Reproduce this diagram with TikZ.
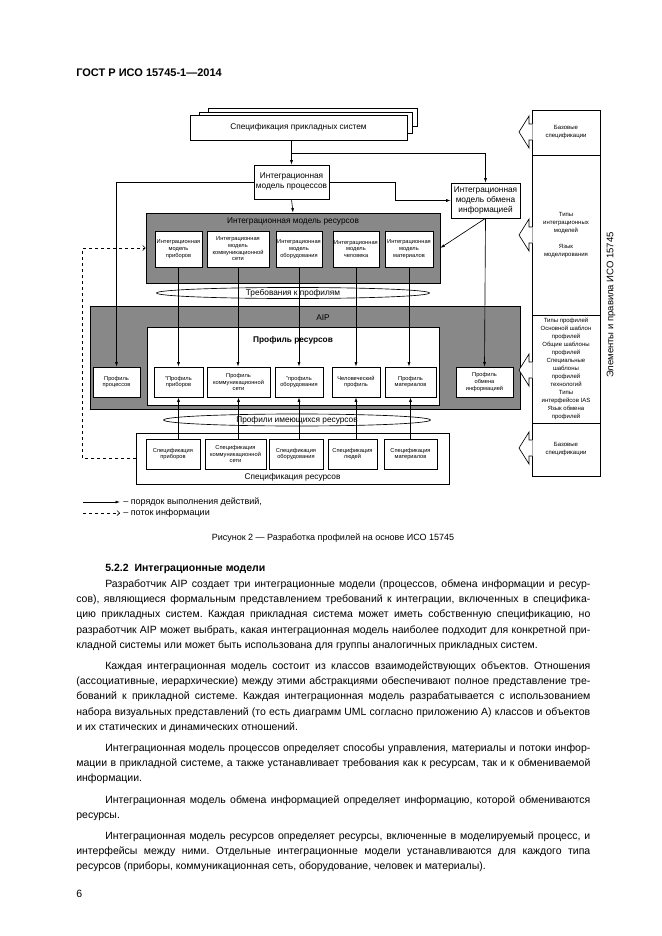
\documentclass[tikz,border=0pt]{standalone}
\usepackage{fontspec}
\setmainfont{Liberation Sans}
\usepackage{xcolor}
\usepackage{tikz}
\usetikzlibrary{arrows.meta,shapes.geometric}
\definecolor{aipgray}{HTML}{888888}
\frenchspacing

\tikzset{
  box/.style={draw, fill=white, align=center, inner sep=1pt, font=\fontsize{5.7}{6.7}\selectfont},
  bigtext/.style={align=center, inner sep=1pt, font=\fontsize{8.3}{10}\selectfont},
  darkbox/.style={draw, fill=aipgray},
  oval/.style={draw, ellipse, inner sep=0pt, font=\fontsize{8.3}{10}\selectfont},
  colbox/.style={draw, fill=white, align=center, minimum width=68pt, inner sep=1pt, font=\fontsize{6}{8}\selectfont},
  infoflow/.style={dashed, -{Straight Barb[length=2.5pt,width=5pt]}},
  legendtext/.style={anchor=west, inner sep=0pt, font=\fontsize{9}{11}\selectfont},
  bodyline/.style={anchor=base west, inner sep=0pt, font=\fontsize{10.5}{13}\selectfont},
}

\begin{document}
\begin{tikzpicture}[x=1pt, y=-1pt, >={Latex[length=4.5pt,width=3pt]}, line width=0.65pt]
  \fill[white] (0,0) rectangle (661,936);
  \useasboundingbox (0,0) rectangle (661,936);
  \node[anchor=base west, inner sep=0pt, font=\fontsize{11}{13}\selectfont\bfseries] (gost) at (76,77) {ГОСТ Р ИСО 15745-1—2014};

  % application specifications
  \draw[fill=white] (208,108) rectangle (417,126);
  \draw[fill=white] (199,112) rectangle (412,133);
  \node[box, bigtext, draw, minimum width=217pt, minimum height=25pt] (appspec) at (298.5,127.5) {Спецификация прикладных систем};
  \node[box, bigtext, draw, minimum width=75pt, minimum height=34pt] (procmodel) at (291.5,182) {Интеграционная\\модель процессов};
  \node[box, bigtext, draw, minimum width=69pt, minimum height=35pt] (infomodel) at (485.5,200.5) {Интеграционная\\модель обмена\\информацией};

  % resource model
  \node[darkbox, minimum width=294pt, minimum height=70pt] (resmodel) at (293,248) {};
  \node[bigtext] (resmodeltitle) at (293,222) {Интеграционная модель ресурсов};
  \node[box, minimum width=47pt, minimum height=36pt] (im1) at (178.5,249) {Интеграционная\\модель\\приборов};
  \node[box, minimum width=62pt, minimum height=36pt] (im2) at (238,249) {Интеграционная\\модель\\коммуникационной\\сети};
  \node[box, minimum width=46pt, minimum height=36pt] (im3) at (299,249) {Интеграционная\\модель\\оборудования};
  \node[box, minimum width=46pt, minimum height=36pt] (im4) at (356,249) {Интеграционная\\модель\\человека};
  \node[box, minimum width=48pt, minimum height=36pt] (im5) at (409,249) {Интеграционная\\модель\\материалов};
  \node[oval, minimum width=273pt, minimum height=11pt] (req) at (293,293) {Требования к профилям};

  % AIP
  \node[darkbox, minimum width=430pt, minimum height=103pt] (aip) at (305,357.5) {};
  \node[bigtext] (aiptitle) at (323,318) {AIP};
  \node[draw, fill=white, minimum width=292pt, minimum height=78pt] (resprof) at (293,366) {};
  \node[bigtext, font=\fontsize{8.3}{10}\selectfont\bfseries] (resproftitle) at (293,340) {Профиль ресурсов};
  \node[box, minimum width=47pt, minimum height=30pt] (pproc) at (116.5,382) {Профиль\\процессов};
  \node[box, minimum width=49pt, minimum height=30pt] (p1) at (178.5,382) {”Профиль\\приборов};
  \node[box, minimum width=63pt, minimum height=30pt] (p2) at (238.5,382) {Профиль\\коммуникационной\\сети};
  \node[box, minimum width=48pt, minimum height=30pt] (p3) at (299,382) {”профиль\\оборудования};
  \node[box, minimum width=48pt, minimum height=30pt] (p4) at (356,382) {Человеческий\\профиль};
  \node[box, minimum width=51pt, minimum height=30pt] (p5) at (410.5,382) {Профиль\\материалов};
  \node[box, minimum width=57pt, minimum height=30pt] (pinfo) at (484.5,382) {Профиль\\обмена\\информацией};
  \node[oval, minimum width=267pt, minimum height=12pt] (avail) at (297,420) {Профили имеющихся ресурсов};

  % resource specifications
  \node[draw, fill=white, minimum width=313pt, minimum height=51pt] (resspec) at (292.5,458.5) {};
  \node[bigtext] (resspectitle) at (292.5,477) {Спецификация ресурсов};
  \node[box, minimum width=54pt, minimum height=30pt] (s1) at (173,454) {Спецификация\\приборов};
  \node[box, minimum width=61pt, minimum height=30pt] (s2) at (235.5,454) {Спецификация\\коммуникационной\\сети};
  \node[box, minimum width=54pt, minimum height=30pt] (s3) at (296,454) {Спецификация\\оборудования};
  \node[box, minimum width=49pt, minimum height=30pt] (s4) at (352.5,454) {Спецификация\\людей};
  \node[box, minimum width=53pt, minimum height=30pt] (s5) at (410.5,454) {Спецификация\\материалов};

  % ISO 15745 column
  \node[colbox, minimum height=45pt] (col1) at (566,132.5) {Базовые\\спецификации};
  \node[colbox, minimum height=160pt] (col2) at (566,235) {Типы\\интеграционных\\моделей\\[8pt]Язык\\моделирования};
  \node[colbox, minimum height=108pt] (col3) at (566,369) {Типы профилей\\Основной шаблон\\профилей\\Общие шаблоны\\профилей\\Специальные\\шаблоны\\профилей\\технологий\\Типы\\интерфейсов IAS\\Язык обмена\\профилей};
  \node[colbox, minimum height=53pt] (col4) at (566,449.5) {Базовые\\спецификации};
  \node[rotate=90, inner sep=0pt, font=\fontsize{9.5}{11}\selectfont] (isolabel) at (611,305) {Элементы и правила ИСО 15745};
  \fill[white] (532.5,124) -- (529,124) -- (529,116) -- (519,132) -- (529,148) -- (529,140) -- (532.5,140) -- cycle;
  \draw (532,124) -- (529,124) -- (529,116) -- (519,132) -- (529,148) -- (529,140) -- (532,140);
  \fill[white] (532.5,227) -- (529,227) -- (529,219) -- (519,235) -- (529,251) -- (529,243) -- (532.5,243) -- cycle;
  \draw (532,227) -- (529,227) -- (529,219) -- (519,235) -- (529,251) -- (529,243) -- (532,243);
  \fill[white] (532.5,362) -- (529,362) -- (529,354) -- (519,370) -- (529,386) -- (529,378) -- (532.5,378) -- cycle;
  \draw (532,362) -- (529,362) -- (529,354) -- (519,370) -- (529,386) -- (529,378) -- (532,378);
  \fill[white] (532.5,440) -- (529,440) -- (529,432) -- (519,448) -- (529,464) -- (529,456) -- (532.5,456) -- cycle;
  \draw (532,440) -- (529,440) -- (529,432) -- (519,448) -- (529,464) -- (529,456) -- (532,456);

  % order of actions
  \coordinate (split) at (291.5,153);
  \draw[->] (appspec.south -| procmodel.north) -- (procmodel.north);
  \draw[->] (split) -| (infomodel.north);
  \draw[->] (procmodel.west) -| (pproc.north);
  \draw[->] (procmodel.east) -- ++(65.5,0) |- (infomodel.west);
  \draw[->] (procmodel.south) -- (resmodel.north);
  \draw[->] (infomodel.south) -- (resmodel.east);
  \draw[->] (infomodel.south) -- (pinfo.north);
  \draw[->] (im1.south) -- (im1.south |- p1.north);
  \draw[->] (im2.south) -- (im2.south |- p2.north);
  \draw[->] (im3.south) -- (im3.south |- p3.north);
  \draw[->] (im4.south) -- (im4.south |- p4.north);
  \draw[->] (im5.south) -- (im5.south |- p5.north);
  \draw[->] (p1.south |- s1.north) -- (p1.south);
  \draw[->] (p2.south |- s2.north) -- (p2.south);
  \draw[->] (p3.south |- s3.north) -- (p3.south);
  \draw[->] (p4.south |- s4.north) -- (p4.south);
  \draw[->] (p5.south |- s5.north) -- (p5.south);
  % information flow
  \draw[infoflow] (resspec.west) -- ++(-53,0) |- (resmodel.west);

  % legend
  \coordinate (legsolidA) at (83,502);
  \coordinate (legsolidB) at (120,502);
  \coordinate (legdashA) at (83,513);
  \coordinate (legdashB) at (120,513);
  \draw[->] (legsolidA) -- (legsolidB);
  \draw[infoflow] (legdashA) -- (legdashB);
  \node[legendtext] (legsolid) at (123,502) {– порядок выполнения действий,};
  \node[legendtext] (legdash) at (123,513) {– поток информации};

  \node[inner sep=0pt, font=\fontsize{9}{11}\selectfont] (caption) at (333,538) {Рисунок 2 — Разработка профилей на основе ИСО 15745};

  % text
  \node[bodyline, font=\fontsize{10.5}{13}\selectfont\bfseries] (heading) at (105,571) {5.2.2\ \ Интеграционные модели};
  \node[bodyline] (par1a) at (105,587) {\makebox[485pt][s]{Разработчик AIP создает три интеграционные модели (процессов, обмена информации и ресур-}};
  \node[bodyline] (par1b) at (76,602) {\makebox[514pt][s]{сов), являющиеся формальным представлением требований к интеграции, включенных в специфика-}};
  \node[bodyline] (par1c) at (76,617) {\makebox[514pt][s]{цию прикладных систем. Каждая прикладная система может иметь собственную спецификацию, но}};
  \node[bodyline] (par1d) at (76,633) {\makebox[514pt][s]{разработчик AIP может выбрать, какая интеграционная модель наиболее подходит для конкретной при-}};
  \node[bodyline] (par1e) at (76,648) {кладной системы или может быть использована для группы аналогичных прикладных систем.};
  \node[bodyline] (par2a) at (105,669) {\makebox[485pt][s]{Каждая интеграционная модель состоит из классов взаимодействующих объектов. Отношения}};
  \node[bodyline] (par2b) at (76,684) {\makebox[514pt][s]{(ассоциативные, иерархические) между этими абстракциями обеспечивают полное представление тре-}};
  \node[bodyline] (par2c) at (76,699) {\makebox[514pt][s]{бований к прикладной системе. Каждая интеграционная модель разрабатывается с использованием}};
  \node[bodyline] (par2d) at (76,715) {\makebox[514pt][s]{набора визуальных представлений (то есть диаграмм UML согласно приложению А) классов и объектов}};
  \node[bodyline] (par2e) at (76,730) {и их статических и динамических отношений.};
  \node[bodyline] (par3a) at (105,751) {\makebox[485pt][s]{Интеграционная модель процессов определяет способы управления, материалы и потоки инфор-}};
  \node[bodyline] (par3b) at (76,766) {\makebox[514pt][s]{мации в прикладной системе, а также устанавливает требования как к ресурсам, так и к обмениваемой}};
  \node[bodyline] (par3c) at (76,781) {информации.};
  \node[bodyline] (par4a) at (105,803) {\makebox[485pt][s]{Интеграционная модель обмена информацией определяет информацию, которой обмениваются}};
  \node[bodyline] (par4b) at (76,818) {ресурсы.};
  \node[bodyline] (par5a) at (105,839) {\makebox[485pt][s]{Интеграционная модель ресурсов определяет ресурсы, включенные в моделируемый процесс, и}};
  \node[bodyline] (par5b) at (76,854) {\makebox[514pt][s]{интерфейсы между ними. Отдельные интеграционные модели устанавливаются для каждого типа}};
  \node[bodyline] (par5c) at (76,869) {ресурсов (приборы, коммуникационная сеть, оборудование, человек и материалы).};
  \node[bodyline] (pagenum) at (76,897) {6};
\end{tikzpicture}
\end{document}
